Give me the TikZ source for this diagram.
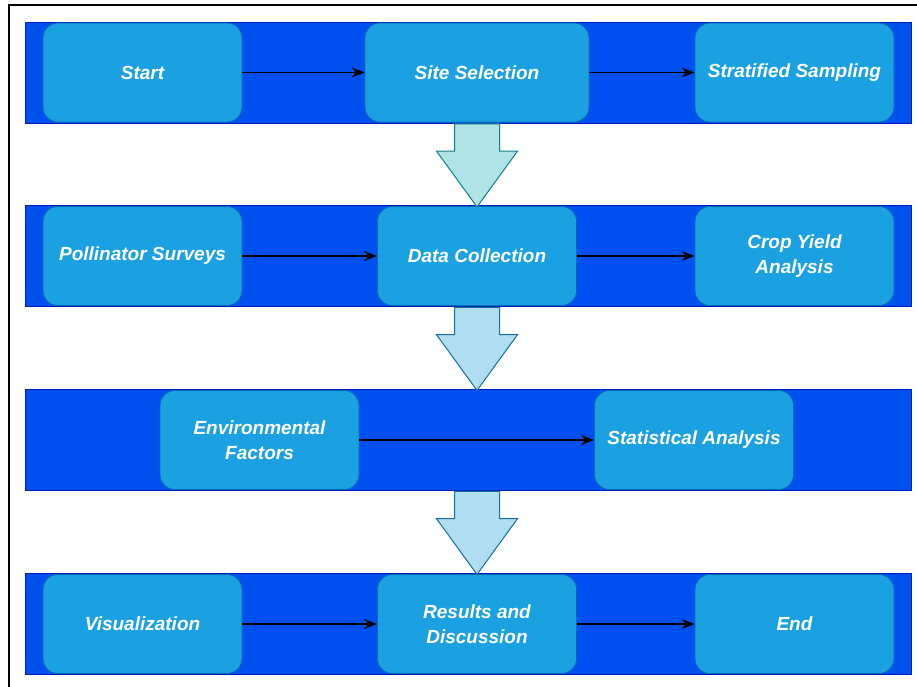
\documentclass[tikz,border=0pt]{standalone}
\usepackage{fontspec}
\setmainfont{Liberation Sans}
\usepackage{xcolor}
\usetikzlibrary{
    shapes.arrows,
    positioning,
    calc,
    arrows.meta
}
\definecolor{bandfill}{HTML}{0050EF}
\definecolor{banddraw}{HTML}{001DBC}
\definecolor{boxfill}{HTML}{1BA1E2}
\definecolor{boxdraw}{HTML}{006EAF}
\definecolor{tealfill}{HTML}{B0E3E6}
\definecolor{tealdraw}{HTML}{0E8088}
\definecolor{skyfill}{HTML}{B1DDF0}
\definecolor{skydraw}{HTML}{10739E}
\tikzset{
  band/.style = {
      draw=banddraw,
      fill=bandfill,
      rectangle,
      line width=0.8pt,
      minimum width=886pt,
      minimum height=101pt,
      inner sep=0pt
  },
  stage/.style = {
      draw=boxdraw,
      fill=boxfill,
      rectangle,
      rounded corners=15pt,
      line width=0.8pt,
      minimum width=199pt,
      minimum height=99pt,
      inner sep=0pt,
      text=white,
      align=center,
      font=\fontsize{19}{25}\selectfont\bfseries\itshape
  },
  wide/.style = {
      stage,
      minimum width=224pt
  },
  flow/.style = {
      -{Stealth[length=13pt,width=10pt]},
      line width=1.3pt,
      black
  },
  bigarrow/.style = {
      single arrow,
      rotate=-90,
      anchor=tail,
      minimum height=83pt,
      inner xsep=0pt,
      inner ysep=22pt,
      single arrow head extend=18pt,
      single arrow tip angle=72,
      line width=1pt
  },
  teal/.style = {
      bigarrow,
      draw=tealdraw,
      fill=tealfill
  },
  sky/.style = {
      bigarrow,
      draw=skydraw,
      fill=skyfill
  }
}

\begin{document}
\begin{tikzpicture}[x=1pt,y=-1pt]
    \useasboundingbox (0,0) rectangle (917,686);
    % outer frame
    \draw[line width=1.5pt] (9,700) -- (9,5) -- (930,5);

    % bands
    \node[band] (band1) at (468,72.5) {};
    \node[band] (band2) at (468,256) {};
    \node[band] (band3) at (468,440) {};
    \node[band] (band4) at (468,624) {};

    % first row
    \node[stage] (start) at (142.5,72.5) {Start};
    \node[wide] (site) at (477,72.5) {Site Selection};
    \node[stage] (strat) at (794.5,72.5) {Stratified Sampling};
    % second row
    \node[stage] (poll) at (142.5,256) {Pollinator Surveys};
    \node[stage] (coll) at (477,256) {Data Collection};
    \node[stage] (crop) at (794.5,256) {Crop Yield\\Analysis};
    % third row
    \node[stage] (env) at (259.5,440) {Environmental\\Factors};
    \node[stage] (stat) at (694,440) {Statistical Analysis};
    % fourth row
    \node[stage] (vis) at (142.5,624) {Visualization};
    \node[stage] (res) at (477,624) {Results and\\Discussion};
    \node[stage] (end) at (794.5,624) {End};

    % Edges
    \draw[flow] (start) -- (site.west);
    \draw[flow] (site) -- (strat.west);
    \draw[flow] (poll) -- (coll.west);
    \draw[flow] (coll) -- (crop.west);
    \draw[flow] (env) -- (stat.west);
    \draw[flow] (vis) -- (res.west);
    \draw[flow] (res) -- (end.west);

    % arrows between the bands
    \node[teal] (down1) at ($(band1.south)+(9,0)$) {};
    \node[sky] (down2) at ($(band2.south)+(9,0)$) {};
    \node[sky] (down3) at ($(band3.south)+(9,0)$) {};
\end{tikzpicture}
\end{document}
